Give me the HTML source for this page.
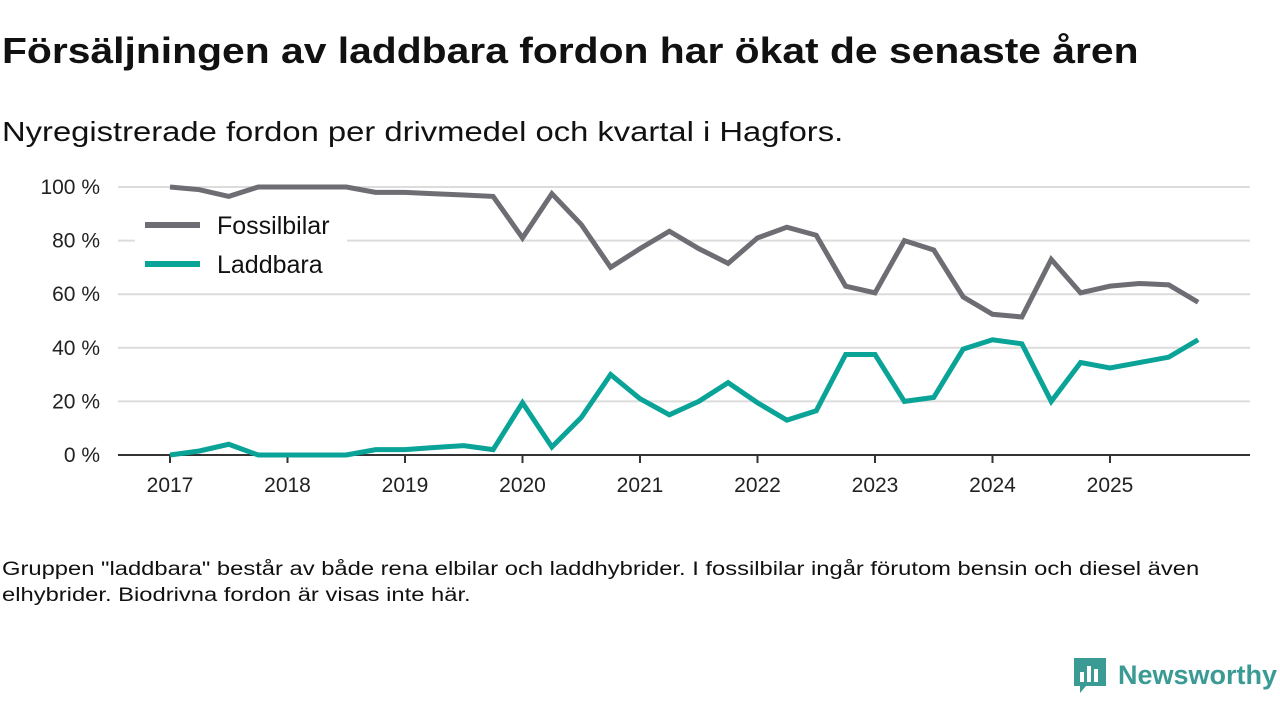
<!DOCTYPE html>
<html><head><meta charset="utf-8"><style>
body{margin:0;width:1280px;height:720px;background:#fff;font-family:"Liberation Sans","DejaVu Sans",sans-serif;color:#111;overflow:hidden;position:relative}
h1{position:absolute;left:2px;top:30px;margin:0;font-size:36px;font-weight:bold;transform-origin:0 0;transform:scaleX(1.134);white-space:nowrap}
.sub{position:absolute;left:2px;top:116px;font-size:28px;transform-origin:0 0;transform:scaleX(1.17);white-space:nowrap}
.foot{position:absolute;left:2px;top:557px;font-size:19px;line-height:26px;width:975px;transform-origin:0 0;transform:scaleX(1.25)}
.logo{position:absolute;left:1072px;top:656px;display:flex;align-items:center;font-size:27px;font-weight:bold;color:#3a9b94;white-space:nowrap}
</style></head><body>
<h1>Försäljningen av laddbara fordon har ökat de senaste åren</h1>
<div class="sub">Nyregistrerade fordon per drivmedel och kvartal i Hagfors.</div>
<svg id="chart" width="1280" height="720" style="position:absolute;left:0;top:0"></svg>
<div class="foot">Gruppen "laddbara" består av både rena elbilar och laddhybrider. I fossilbilar ingår förutom bensin och diesel även elhybrider. Biodrivna fordon är visas inte här.</div>
<div class="logo"><svg width="36" height="38" viewBox="0 0 36 38"><path d="M2 2h32v28H14l-6 7v-7H2z" fill="#3a9b94"/><rect x="8" y="16" width="4" height="10" fill="#fff"/><rect x="15" y="10" width="4" height="16" fill="#fff"/><rect x="22" y="13" width="4" height="13" fill="#fff"/></svg><span style="margin-left:10px">Newsworthy</span></div>
<script>
const years=[2017,2018,2019,2020,2021,2022,2023,2024,2025];
const yTicks=[0,20,40,60,80,100];
const fossil=[100,99,96.5,100,100,100,100,98,98,97.5,97,96.5,81,97.5,86,70,77,83.5,77,71.5,81,85,82,63,60.5,80,76.5,59,52.5,51.5,73,60.5,63,64,63.5,57];
const laddbara=[0,1.5,4,0,0,0,0,2,2,2.8,3.5,2,19.5,3,14,30,21,15,20,27,19.5,13,16.5,37.5,37.5,20,21.5,39.5,43,41.5,20,34.5,32.5,34.5,36.5,43];
const NS="http://www.w3.org/2000/svg",svg=document.getElementById('chart');
const x=t=>170+(t-2017)*117.5, y=v=>455-v*2.68;
function mk(tag,at,txt){const e=document.createElementNS(NS,tag);for(const k in at)e.setAttribute(k,at[k]);if(txt!=null)e.textContent=txt;svg.appendChild(e);return e;}
yTicks.forEach(v=>{
 if(v>0){const g=mk('line',{x1:118,x2:1250,y1:y(v),y2:y(v),stroke:'#dcdcdc','stroke-width':2});
 
 }
 const t=mk('text',{x:100,y:y(v)+7,'text-anchor':'end','font-size':21,fill:'#222'},v+' %');
 
 
});
const ax=mk('line',{x1:118,x2:1250,y1:455,y2:455,stroke:'#333','stroke-width':2});


years.forEach(yr=>{
 const tk=mk('line',{x1:x(yr),x2:x(yr),y1:455,y2:463,stroke:'#333','stroke-width':2});
 
 
 const t=mk('text',{x:x(yr),y:492,'text-anchor':'middle','font-size':21,fill:'#222'},yr);
 
 
});
function line(data,col,name){
 const p=mk('polyline',{points:data.map((v,i)=>x(2017+i/4)+','+y(v)).join(' '),fill:'none',stroke:col,'stroke-width':5,'stroke-linejoin':'miter'});
 
 
}
line(fossil,'#6e6d73','fossilbilar-line');
line(laddbara,'#0aa398','laddbara-line');
const lb=mk('rect',{x:135,y:205,width:212,height:82,fill:'#fff'});


[['Fossilbilar','#6e6d73',225],['Laddbara','#0aa398',264]].forEach(([n,c,yy])=>{
 const l=mk('line',{x1:145,x2:200,y1:yy,y2:yy,stroke:c,'stroke-width':6});
 
 
 const t=mk('text',{x:217,y:yy+9,'font-size':25,fill:'#111'},n);
 
 
});
</script>
</body></html>
